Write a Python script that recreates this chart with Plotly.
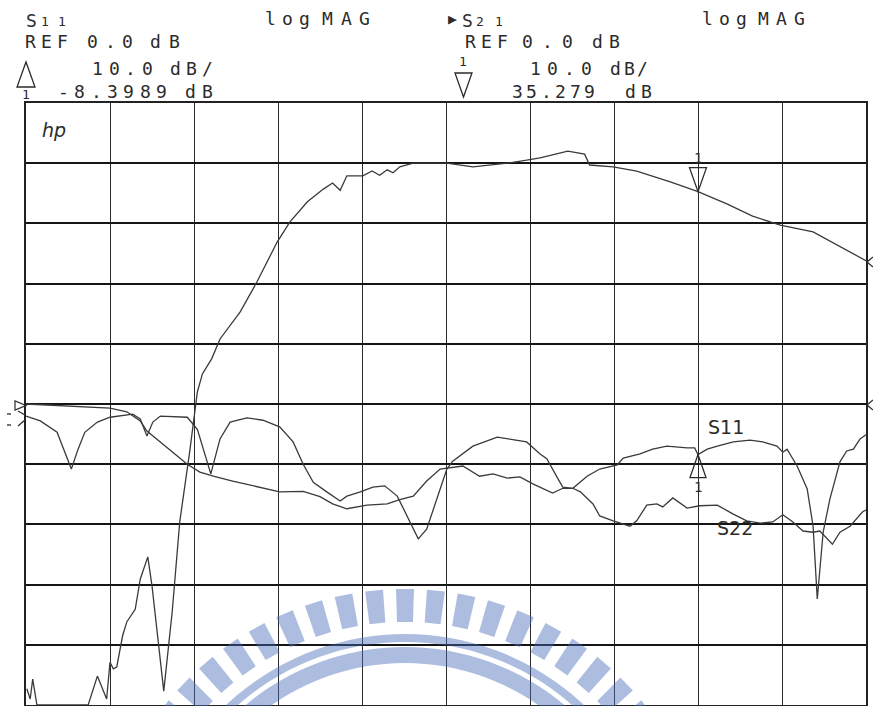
import math
import plotly.graph_objects as go

# ---- measured sweeps: position in graticule divisions (0..10), magnitude in dB ----
s21_x = [0.01, 0.05, 0.08, 0.13, 0.40, 0.74, 0.85, 0.92, 0.96, 1.00, 1.04, 1.08, 1.15, 1.20,
         1.30, 1.36, 1.45, 1.50, 1.64, 1.74, 1.83, 1.95, 2.04, 2.10, 2.21, 2.31, 2.55, 2.75,
         2.99, 3.14, 3.35, 3.54, 3.65, 3.74, 3.82, 4.01, 4.12, 4.21, 4.30, 4.37, 4.45, 4.61,
         5.01, 5.32, 5.73, 5.96, 6.12, 6.45, 6.65, 6.71, 6.99, 7.27, 7.67, 8.00, 8.35, 8.65,
         8.98, 9.37, 9.69, 10.0]
s21_db = [-47.3, -49.0, -45.7, -50.0, -50.0, -50.0, -45.2, -47.8, -49.0, -42.9, -44.0, -43.7,
          -38.5, -36.2, -34.1, -29.1, -25.4, -30.2, -47.7, -34.6, -19.6, -7.8, 2.0, 5.0, 7.5,
          10.8, 15.3, 20.3, 26.9, 30.2, 33.6, 35.7, 36.7, 35.5, 37.9, 37.9, 38.7, 38.0, 38.9,
          38.4, 39.4, 40.0, 40.0, 39.4, 40.0, 40.5, 40.9, 42.0, 41.5, 39.7, 39.4, 38.7, 36.9,
          35.279, 33.2, 31.2, 29.7, 28.6, 26.2, 23.8]

s11_x = [0.00, 0.17, 0.37, 0.46, 0.54, 0.62, 0.70, 0.85, 1.00, 1.27, 1.36, 1.44, 1.51, 1.60,
         1.92, 2.04, 2.11, 2.20, 2.31, 2.43, 2.63, 2.82, 3.02, 3.18, 3.30, 3.42, 3.58, 3.74,
         3.82, 3.98, 4.13, 4.27, 4.42, 4.57, 4.67, 4.77, 4.89, 5.01, 5.08, 5.32, 5.61, 5.85,
         5.96, 6.12, 6.20, 6.32, 6.39, 6.51, 6.68, 6.83, 7.04, 7.11, 7.31, 7.46, 7.63, 7.87,
         7.96, 8.00, 8.11, 8.23, 8.42, 8.62, 8.77, 8.94, 9.01, 9.06, 9.18, 9.30, 9.37, 9.42,
         9.49, 9.57, 9.69, 9.77, 9.85, 9.93, 10.0]
s11_db = [-2.0, -2.8, -4.7, -7.8, -10.8, -7.5, -4.7, -3.0, -2.2, -1.7, -2.5, -5.3, -3.0, -2.0,
          -2.2, -4.2, -7.5, -11.6, -5.8, -3.0, -2.3, -2.7, -3.8, -6.3, -10.0, -13.0, -14.6,
          -16.1, -15.3, -14.6, -13.8, -13.6, -15.3, -19.6, -22.4, -20.8, -15.8, -10.8, -9.5,
          -7.0, -5.5, -6.0, -6.3, -8.3, -9.1, -12.1, -13.8, -14.0, -12.0, -10.8, -10.1, -9.0,
          -8.3, -7.5, -7.0, -7.3, -7.3, -8.3989, -7.5, -7.0, -6.3, -6.0, -6.3, -7.0, -8.0,
          -7.5, -10.3, -14.1, -20.3, -32.4, -21.3, -15.8, -9.6, -7.8, -7.5, -5.8, -5.1]

s22_x = [0.00, 0.49, 1.00, 1.20, 1.36, 1.44, 1.60, 1.80, 1.92, 2.07, 2.23, 2.46, 2.67, 3.02,
         3.30, 3.50, 3.65, 3.82, 4.06, 4.30, 4.45, 4.61, 4.77, 4.93, 5.20, 5.40, 5.56, 5.73,
         5.88, 6.04, 6.27, 6.39, 6.51, 6.60, 6.75, 6.83, 6.99, 7.19, 7.27, 7.39, 7.51, 7.58,
         7.70, 7.87, 8.02, 8.23, 8.42, 8.58, 8.74, 8.89, 9.01, 9.13, 9.25, 9.37, 9.45, 9.60,
         9.69, 9.81, 9.96, 10.0]
s22_db = [0.0, -0.3, -0.7, -1.3, -2.8, -4.5, -6.3, -8.6, -10.0, -11.3, -12.0, -12.8, -13.5,
          -14.6, -14.5, -15.4, -16.6, -17.4, -16.8, -16.6, -15.9, -15.3, -12.8, -10.8, -10.3,
          -12.0, -11.6, -12.3, -12.1, -13.3, -14.8, -14.0, -14.0, -14.6, -16.6, -18.6, -19.4,
          -20.3, -19.4, -16.8, -16.6, -17.1, -15.6, -17.3, -16.9, -16.8, -18.3, -19.4, -19.8,
          -19.6, -18.4, -19.6, -21.1, -21.3, -21.1, -23.3, -21.3, -20.3, -17.9, -17.6]

# marker 1 readouts
marker_x = 8.0
s11_marker_db = -8.3989
s21_marker_db = 35.279

INK = "#2b2b2b"
TRACE = "#3a3a3a"
MONO = "DejaVu Sans Mono"

W, H = 873, 706
ML, MR, MT, MB = 26, 7, 103, 1
PW, PH = W - ML - MR, H - MT - MB


def px(x):
    return (x - ML) / PW


def py(y):
    return (H - MB - y) / PH


fig = go.Figure()
for xs, ys in ((s22_x, s22_db), (s11_x, s11_db), (s21_x, s21_db)):
    fig.add_trace(go.Scatter(x=xs, y=ys, mode="lines",
                             line=dict(color=TRACE, width=1.3), hoverinfo="skip"))

annotations = []
shapes = []


def word(text, x_left, x_right, y, size=18):
    """Plotter-style lettering: glyphs spread at a fixed pitch between two edges."""
    n = len(text)
    g = size * 0.6
    if n == 1:
        centers = [(x_left + x_right) / 2]
    else:
        a, b = x_left + g / 2, x_right - g / 2
        centers = [a + i * (b - a) / (n - 1) for i in range(n)]
    for ch, cx in zip(text, centers):
        annotations.append(dict(x=px(cx), y=py(y), xref="paper", yref="paper", text=ch,
                                showarrow=False, xanchor="center", yanchor="middle",
                                borderpad=0,
                                font=dict(family=MONO, size=size, color=INK)))


# channel 1 header
word("S", 25, 37, 20)
word("11", 41, 66, 22, 13)
word("log", 265, 310, 19)
word("MAG", 322, 370, 19)
word("REF", 25, 68, 41)
word("0.0", 87, 133, 41)
word("dB", 150, 180, 41)
word("10.0", 92, 153, 68.5)
word("dB/", 170, 213, 68.5)
word("-8.3989", 58, 167, 91)
word("dB", 185, 213, 91)
word("1", 21, 31, 95, 13)

# channel 2 header
word("\u25B6", 446, 459, 19, 15)
word("S", 462, 473, 20)
word("21", 476, 503, 22, 13)
word("log", 702, 747, 19)
word("MAG", 758, 805, 19)
word("REF", 465, 508, 41)
word("0.0", 522, 573, 41)
word("dB", 592, 620, 41)
word("1", 458, 468, 62, 13)
word("10.0", 530, 592, 68.5)
word("dB/", 610, 648, 68.5)
word("35.279", 512, 595, 91)
word("dB", 625, 652, 91)


def poly(points, **kw):
    d = "M " + " L ".join(f"{px(x):.5f},{py(y):.5f}" for x, y in points) + " Z"
    s = dict(type="path", path=d, xref="paper", yref="paper")
    s.update(kw)
    shapes.append(s)


def seg(x0, y0, x1, y1, w=1.3):
    shapes.append(dict(type="line", xref="paper", yref="paper",
                       x0=px(x0), y0=py(y0), x1=px(x1), y1=py(y1),
                       line=dict(color=INK, width=w)))


# header triangles
poly([(17, 87), (35, 87), (26, 62)], line=dict(color=INK, width=1.3))
poly([(455, 73), (472, 73), (463.5, 97)], line=dict(color=INK, width=1.3))

# reference position arrows at the left edge
poly([(15, 401), (15, 410), (26, 405.5)], line=dict(color=INK, width=1.2))
seg(7, 414, 11, 414)
seg(7, 425, 11, 425)
seg(18, 411, 25, 415)
seg(18, 426, 25, 420)

# reference / end arrows at the right edge
seg(873, 400, 867, 405)
seg(867, 405, 873, 410)
seg(873, 257, 867, 262)
seg(867, 262, 873, 267)

# marker 1 on S21 (apex on the trace) and on S11
shapes.append(dict(type="path", xref="x", yref="y", xsizemode="pixel", ysizemode="pixel",
                   xanchor=marker_x, yanchor=s21_marker_db,
                   path="M -8.5,24 L 8.5,24 L 0,0 Z", line=dict(color=INK, width=1.3)))
shapes.append(dict(type="path", xref="x", yref="y", xsizemode="pixel", ysizemode="pixel",
                   xanchor=marker_x, yanchor=s11_marker_db,
                   path="M -8,-23 L 8,-23 L 0,0 Z", line=dict(color=INK, width=1.3)))
annotations.append(dict(x=marker_x, y=s21_marker_db, xref="x", yref="y", text="1",
                        showarrow=False, yshift=34, borderpad=0,
                        font=dict(family=MONO, size=14, color=INK)))
annotations.append(dict(x=marker_x, y=s11_marker_db, xref="x", yref="y", text="1",
                        showarrow=False, yshift=-32, borderpad=0,
                        font=dict(family=MONO, size=14, color=INK)))

# hp logo and hand-written trace names
annotations.append(dict(x=px(40), y=py(117), xref="paper", yref="paper", text="<i>hp</i>",
                        showarrow=False, font=dict(family="DejaVu Sans", size=19, color=INK)))
annotations.append(dict(x=px(746), y=py(427), xref="paper", yref="paper", text="S11",
                        showarrow=False, font=dict(family="DejaVu Sans", size=19, color=INK)))
annotations.append(dict(x=px(755), y=py(541), xref="paper", yref="paper", text="S22",
                        showarrow=False, font=dict(family="DejaVu Sans", size=19, color=INK)))

# translucent emblem (rays over a double arc band)
BLUE = "rgba(70,108,185,0.45)"
cx, cy = 405, 895
r_in, r_out, half_w = 273, 306, 8.5
for k in range(-11, 12):
    th = math.radians(k * 5.8)
    ux, uy = math.sin(th), -math.cos(th)
    nx, ny = math.cos(th), math.sin(th)
    hw_o = half_w * r_out / 290
    hw_i = half_w * r_in / 290
    pts = [(cx + ux * r_in - nx * hw_i, cy + uy * r_in - ny * hw_i),
           (cx + ux * r_out - nx * hw_o, cy + uy * r_out - ny * hw_o),
           (cx + ux * r_out + nx * hw_o, cy + uy * r_out + ny * hw_o),
           (cx + ux * r_in + nx * hw_i, cy + uy * r_in + ny * hw_i)]
    poly(pts, fillcolor=BLUE, line=dict(width=0), layer="above")


def band(r0, r1, a_deg=75, n=60):
    outer = [(cx + r1 * math.sin(math.radians(a)), cy - r1 * math.cos(math.radians(a)))
             for a in [-a_deg + 2 * a_deg * i / n for i in range(n + 1)]]
    inner = [(cx + r0 * math.sin(math.radians(a)), cy - r0 * math.cos(math.radians(a)))
             for a in [a_deg - 2 * a_deg * i / n for i in range(n + 1)]]
    poly(outer + inner, fillcolor=BLUE, line=dict(width=0), layer="above")


band(253, 261)
band(232, 248)

fig.update_layout(
    width=W, height=H,
    margin=dict(l=ML, r=MR, t=MT, b=MB),
    paper_bgcolor="white", plot_bgcolor="white",
    showlegend=False,
    xaxis=dict(range=[0, 10], tick0=0, dtick=1, showgrid=True, gridcolor="#2a2a2a",
               gridwidth=1.2, showticklabels=False, ticks="", zeroline=False,
               showline=True, linecolor="#222", linewidth=1.5, mirror=True, fixedrange=True),
    yaxis=dict(range=[-50, 50], tick0=0, dtick=10, showgrid=True, gridcolor="#151515",
               gridwidth=2.2, showticklabels=False, ticks="", zeroline=False,
               showline=True, linecolor="#222", linewidth=1.5, mirror=True, fixedrange=True),
    annotations=annotations,
    shapes=shapes,
)

fig.write_html("out.html")
